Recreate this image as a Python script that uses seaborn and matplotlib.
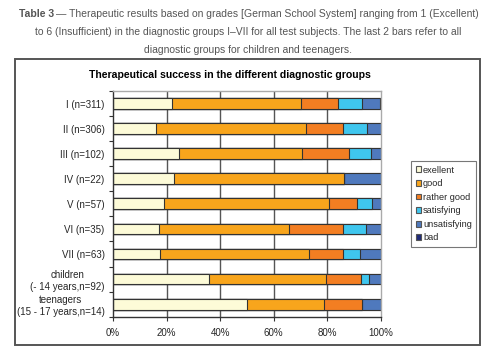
import numpy as np
import pandas as pd
import matplotlib
matplotlib.use("Agg")
import matplotlib.pyplot as plt
import seaborn as sns
from matplotlib.patches import Rectangle

# data (percent of patients per grade)
groups = ["I (n=311)", "II (n=306)", "III (n=102)", "IV (n=22)", "V (n=57)",
          "VI (n=35)", "VII (n=63)", "children\n(- 14 years,n=92)",
          "teenagers\n(15 - 17 years,n=14)"]
grades = ["exellent", "good", "rather good", "satisfying", "unsatisfying", "bad"]
exellent = [22.2, 16.2, 24.5, 22.7, 19.1, 17.1, 17.6, 35.9, 50.0]
good = [47.9, 55.7, 46.1, 63.6, 61.6, 48.7, 55.6, 43.7, 28.6]
rather_good = [13.8, 14.0, 17.6, 0.0, 10.5, 20.1, 12.7, 12.9, 14.3]
satisfying = [9.1, 9.0, 8.1, 0.0, 5.6, 8.4, 6.4, 3.1, 0.0]
unsatisfying = [6.7, 5.1, 3.7, 13.7, 3.2, 5.7, 7.7, 4.4, 7.1]
bad = [0.3, 0.0, 0.0, 0.0, 0.0, 0.0, 0.0, 0.0, 0.0]
colors = ["#FDFBD8", "#F8A51C", "#F37E22", "#3FC6EE", "#4F79BD", "#1E2A78"]

df = pd.DataFrame({"group": groups, "exellent": exellent, "good": good,
                   "rather good": rather_good, "satisfying": satisfying,
                   "unsatisfying": unsatisfying, "bad": bad})
cum = df[grades].cumsum(axis=1)
total = cum[grades[-1]].values
cum = cum.div(total, axis=0) * 100

sns.set_style("white")
plt.rcParams["font.family"] = ["Liberation Sans", "DejaVu Sans"]

fig = plt.figure(figsize=(5, 3.6), dpi=100)

# caption
cap_col = "#555555"
fig.text(54 / 500, 0.962, "Table 3", ha="right", va="center", fontsize=7.5,
         fontweight="bold", color=cap_col)
fig.text(56 / 500, 0.962, "— Therapeutic results based on grades [German School System] ranging from 1 (Excellent)",
         ha="left", va="center", fontsize=7.5, color=cap_col)
fig.text(0.496, 0.912, "to 6 (Insufficient) in the diagnostic groups I–VII for all test subjects. The last 2 bars refer to all",
         ha="center", va="center", fontsize=7.5, color=cap_col)
fig.text(0.496, 0.862, "diagnostic groups for children and teenagers.",
         ha="center", va="center", fontsize=7.5, color=cap_col)

# chart frame
fig.patches.append(Rectangle((15 / 500, 1 - 345 / 360), 465 / 500, 286 / 360,
                             transform=fig.transFigure, fill=False,
                             edgecolor="#555555", lw=1.4))
fig.text(230 / 500, 1 - 75 / 360, "Therapeutical success in the different diagnostic groups",
         ha="center", va="center", fontsize=7.6, fontweight="bold", color="black")

ax = fig.add_axes([113 / 500, 1 - 316.7 / 360, 268 / 500, 225.7 / 360])

# draw from the full bar back to the first grade so each layer overlays the next
for g, c in zip(grades[::-1], colors[::-1]):
    sns.barplot(x=cum[g].values, y=df["group"], orient="h", color=c, saturation=1,
                edgecolor="#333333", linewidth=0.8, width=0.43, ax=ax)

ax.set_xlim(0, 100)
ax.set_xticks(np.arange(0, 101, 20))
ax.set_xticklabels([f"{v}%" for v in range(0, 101, 20)], fontsize=7)
ax.set_xlabel("")
ax.set_ylabel("")
ax.tick_params(axis="y", labelsize=7, length=0, pad=6)
for lbl in ax.get_yticklabels():
    lbl.set_multialignment("center")
ax.tick_params(axis="x", length=3, width=0.8, color="#333333", pad=5, direction="out")
ax.set_yticks(np.arange(-0.5, len(groups), 1), minor=True)
ax.tick_params(axis="y", which="minor", length=3, width=0.8, color="#333333", left=True)
ax.tick_params(axis="x", bottom=True)

for x in [20, 40, 60, 80]:
    ax.axvline(x, color="#555555", lw=1.0, zorder=0)
ax.set_axisbelow(True)
for s in ["left", "bottom"]:
    ax.spines[s].set_color("#333333")
    ax.spines[s].set_linewidth(1.0)
for s in ["top", "right"]:
    ax.spines[s].set_color("#aaaaaa")
    ax.spines[s].set_linewidth(1.0)

handles = [Rectangle((0, 0), 1, 1, facecolor=c, edgecolor="#555555", lw=0.8) for c in colors]
leg = fig.legend(handles, grades, loc="upper left", bbox_to_anchor=(411 / 500, 1 - 161 / 360),
                 fontsize=6.6, frameon=True, fancybox=False, handlelength=0.6, handleheight=0.6,
                 handletextpad=0.2, labelspacing=0.5, borderpad=0.5, borderaxespad=0)
leg.get_frame().set_edgecolor("#555555")
leg.get_frame().set_linewidth(0.8)

fig.savefig("out.png", dpi=100)
